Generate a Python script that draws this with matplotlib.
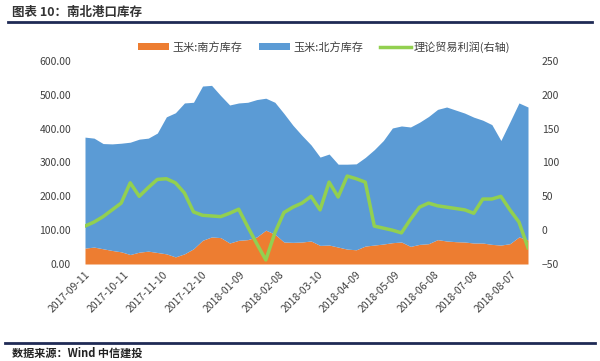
import numpy as np
import pandas as pd
import matplotlib
matplotlib.use("Agg")
import matplotlib.pyplot as plt
import matplotlib.dates as mdates

plt.rcParams['font.family'] = ['Noto Sans CJK SC', 'DejaVu Sans']

dates = pd.date_range("2017-09-11", periods=50, freq="7D")

south = [47, 50, 45, 40, 36, 28, 35, 38, 34, 30,
         21, 30, 45, 70, 80, 78, 62, 70, 72, 80,
         100, 88, 65, 64, 65, 68, 55, 56, 50, 44,
         42, 53, 56, 59, 63, 65, 52, 58, 60, 72,
         68, 66, 65, 62, 62, 58, 56, 60, 80, 71]

north = [328, 322, 311, 315, 321, 332, 334, 334, 353, 405,
         426, 446, 433, 456, 448, 420, 408, 406, 406, 406,
         390, 390, 380, 346, 315, 284, 261, 269, 245, 251,
         254, 262, 282, 306, 339, 343, 353, 361, 376, 385,
         396, 389, 381, 372, 363, 354, 309, 360, 396, 393]

profit = [6, 12, 20, 30, 40, 70, 50, 63, 75, 76,
          70, 55, 27, 22, 21, 20, 25, 31, 5, -20,
          -44, -4, 26, 34, 40, 50, 30, 71, 49, 80,
          76, 71, 6, 3, 0, -4, 16, 34, 40, 36,
          34, 32, 30, 25, 46, 46, 50, 30, 12, -26]

tick_dates = pd.date_range("2017-09-11", periods=12, freq="30D")

fig = plt.figure(figsize=(6, 3.61), dpi=100)
ax = fig.add_axes([85/600, 1-264/361, (528-85)/600, (264-61)/361])

south = np.array(south)
north = np.array(north)
ax.fill_between(dates, 0, south, color='#ED7D31', lw=0, label='玉米:南方库存')
ax.fill_between(dates, south, south + north, color='#5B9BD5', lw=0, label='玉米:北方库存')
ax.set_ylim(0, 600)
ax.set_yticks(np.arange(0, 601, 100))
ax.set_yticklabels(['%.2f' % v for v in np.arange(0, 601, 100)])
ax.set_xlim(dates[0], dates[-1])
ax.set_xticks(tick_dates)
ax.set_xticklabels([d.strftime('%Y-%m-%d') for d in tick_dates], rotation=45,
                   ha='right', rotation_mode='anchor')

ax2 = ax.twinx()
ax2.plot(dates, profit, color='#92D050', lw=2.5, label='理论贸易利润(右轴)')
ax2.set_ylim(-50, 250)
ax2.set_yticks(np.arange(-50, 251, 50))

for a in (ax, ax2):
    for s in a.spines.values():
        s.set_visible(False)
    a.tick_params(length=0, labelsize=7.5, colors='#404040')
ax.tick_params(axis='y', pad=10)
ax2.tick_params(axis='y', pad=10)
ax.tick_params(axis='x', pad=4)

h1, l1 = ax.get_legend_handles_labels()
h2, l2 = ax2.get_legend_handles_labels()
fig.legend(h1 + h2, l1 + l2, loc='center', bbox_to_anchor=(0.54, 1-47/361), ncol=3,
           frameon=False, fontsize=8, handlelength=2.8, handleheight=0.6,
           columnspacing=1.5, handletextpad=0.3, labelcolor='#404040')

fig.text(12/600, 1-12/361, '图表 10：南北港口库存', fontsize=9, fontweight='bold',
         color='#333333', va='center', ha='left')
fig.add_artist(plt.Line2D([8/600, 592/600], [1-22/361, 1-22/361], color='#1F2A55', lw=2))
fig.add_artist(plt.Line2D([5/600, 595/600], [1-343/361, 1-343/361], color='#1F2A55', lw=2))
fig.text(12/600, 1-353/361, '数据来源：Wind 中信建投', fontsize=8, fontstyle='italic',
         fontweight='bold', color='#222222', va='center', ha='left')

fig.savefig('out.png', dpi=100)
